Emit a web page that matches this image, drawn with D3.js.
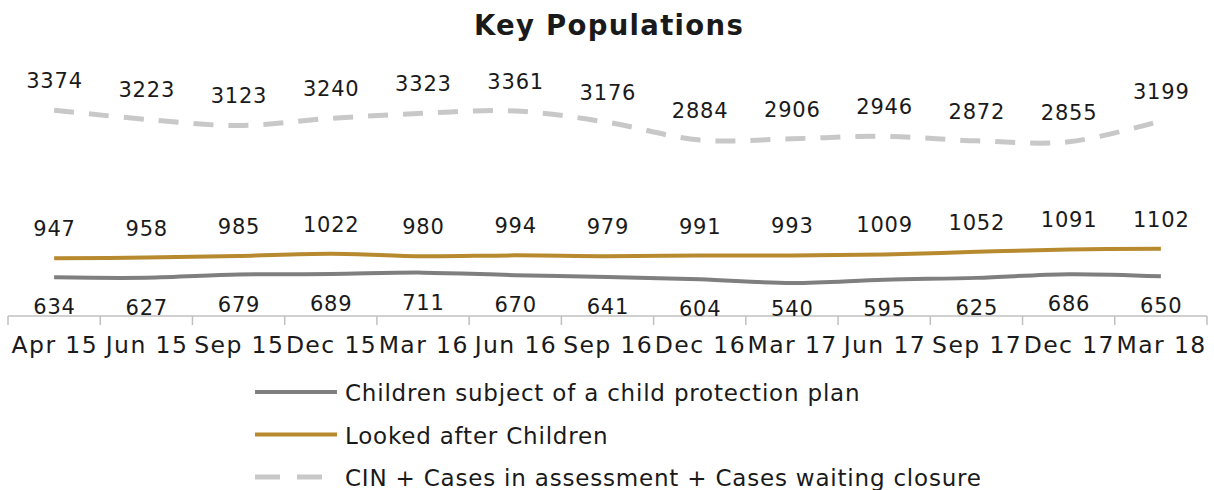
<!doctype html>
<html>
<head>
<meta charset="utf-8">
<title>Key Populations</title>
<script src="https://cdn.jsdelivr.net/npm/d3@7"></script>
<style>
  body { margin: 0; background: white; }
  svg { display: block; }
  text { font-family: "DejaVu Sans", sans-serif; fill: #1a1a1a; }
</style>
</head>
<body>
<svg id="chart" width="1214" height="490"></svg>
<script>
var categories = ['Apr 15', 'Jun 15', 'Sep 15', 'Dec 15', 'Mar 16', 'Jun 16', 'Sep 16',
                  'Dec 16', 'Mar 17', 'Jun 17', 'Sep 17', 'Dec 17', 'Mar 18'];
var protectionPlan = [634, 627, 679, 689, 711, 670, 641, 604, 540, 595, 625, 686, 650];
var lookedAfter = [947, 958, 985, 1022, 980, 994, 979, 991, 993, 1009, 1052, 1091, 1102];
var cinCases = [3374, 3223, 3123, 3240, 3323, 3361, 3176, 2884, 2906, 2946, 2872, 2855, 3199];
var seriesNames = ['Children subject of a child protection plan', 'Looked after Children',
                   'CIN + Cases in assessment + Cases waiting closure'];

var svg = d3.select('#chart');

var x = d3.scaleBand().domain(categories).range([8, 1207]).padding(0);
var y = d3.scaleLinear().domain([0, 4000]).range([316, 72]);

var series = [
  {name: seriesNames[0], values: protectionPlan, color: '#7f7f7f', width: 4, dash: null, labelPos: 'below'},
  {name: seriesNames[1], values: lookedAfter, color: '#b78a2f', width: 4, dash: null, labelPos: 'above'},
  {name: seriesNames[2], values: cinCases, color: '#c8c8c8', width: 5, dash: '20,15', labelPos: 'above'}
];

// title
svg.append('text')
    .attr('x', 609)
    .attr('y', 35)
    .attr('text-anchor', 'middle')
    .style('font-size', '27.5px')
    .style('font-weight', 'bold')
    .style('letter-spacing', '1.3px')
    .text('Key Populations');

// axis line and ticks between categories
var axis = svg.append('g');
axis.append('line')
    .attr('x1', x.range()[0]).attr('x2', x.range()[1])
    .attr('y1', y(0)).attr('y2', y(0))
    .attr('stroke', '#c0c0c0').attr('stroke-width', 1.5);
var bounds = categories.map(function (c) { return x(c); }).concat([x.range()[1]]);
axis.selectAll('.tick')
    .data(bounds)
    .enter().append('line')
    .attr('x1', function (d) { return d; }).attr('x2', function (d) { return d; })
    .attr('y1', y(0)).attr('y2', y(0) + 9)
    .attr('stroke', '#c0c0c0').attr('stroke-width', 1.5);
axis.selectAll('.cat')
    .data(categories)
    .enter().append('text')
    .attr('x', function (d) { return x(d) + x.bandwidth() / 2 + 0.7; })
    .attr('y', 353)
    .attr('text-anchor', 'middle')
    .style('font-size', '23.5px')
    .style('letter-spacing', '1.4px')
    .text(function (d) { return d; });

var line = d3.line()
    .x(function (d, i) { return x(categories[i]) + x.bandwidth() / 2; })
    .y(function (d) { return y(d); })
    .curve(d3.curveCatmullRom.alpha(0.5));

series.forEach(function (s) {
  svg.append('path')
      .datum(s.values)
      .attr('d', line)
      .attr('fill', 'none')
      .attr('stroke', s.color)
      .attr('stroke-width', s.width)
      .attr('stroke-dasharray', s.dash)
      .attr('stroke-linejoin', 'round');

  svg.append('g').selectAll('text')
      .data(s.values)
      .enter().append('text')
      .attr('x', function (d, i) { return x(categories[i]) + x.bandwidth() / 2 + 0.4; })
      .attr('y', function (d) {
        return s.labelPos === 'above' ? y(d) - 22 : Math.min(y(d) + 37, 316);
      })
      .attr('text-anchor', 'middle')
      .style('font-size', '21px')
      .style('letter-spacing', '0.8px')
      .text(function (d) { return d; });
});

// legend
var legend = svg.append('g').selectAll('g')
    .data(series)
    .enter().append('g')
    .attr('transform', function (d, i) { return 'translate(0,' + (401 + i * 42.5) + ')'; });
legend.append('line')
    .attr('x1', 255).attr('x2', 337)
    .attr('y1', -9).attr('y2', -9)
    .attr('stroke', function (d) { return d.color; })
    .attr('stroke-width', function (d) { return d.width; })
    .attr('stroke-dasharray', function (d) { return d.dash ? '25,17' : null; });
legend.append('text')
    .attr('x', 345)
    .attr('y', 0)
    .style('font-size', '23px')
    .style('letter-spacing', '0.8px')
    .text(function (d) { return d.name; });
</script>
</body>
</html>
